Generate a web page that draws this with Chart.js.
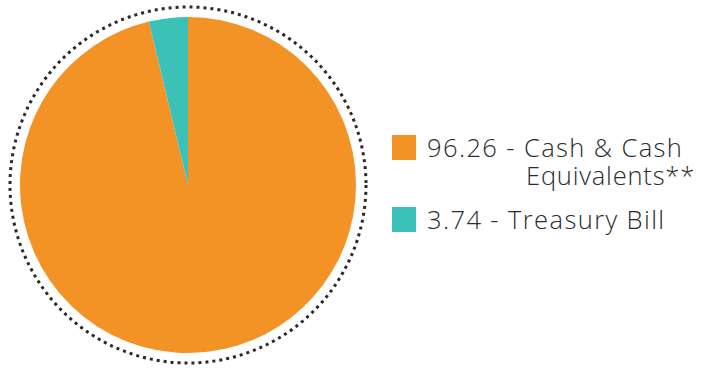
<!DOCTYPE html>
<html>
<head>
<meta charset="utf-8">
<script src="https://cdn.jsdelivr.net/npm/chart.js@4/dist/chart.umd.min.js"></script>
<style>
  html, body { margin: 0; padding: 0; background: #fff; }
  #wrap { position: relative; width: 704px; height: 380px; overflow: hidden; }
  #pie { position: absolute; left: 0; top: 0; }
  .legend { position: absolute; left: 392px; font-family: "Open Sans", sans-serif; font-weight: 300; color: #2b2b2b; font-size: 25.5px; letter-spacing: 1.4px; }
  .item { position: relative; }
  .box { position: absolute; left: 0; width: 24px; height: 25px; }
  .txt { position: absolute; left: 35px; white-space: nowrap; line-height: 28px; }
</style>
</head>
<body>
<div id="wrap">
  <canvas id="pie" width="376" height="370"></canvas>
  <div id="legend"></div>
</div>
<script>
const labels = ["Cash & Cash Equivalents**", "Treasury Bill"];
const values = [96.26, 3.74];
const colors = ["#F39325", "#3CC1B9"];
const legendLines = [["96.26 - Cash & Cash", "Equivalents**"], ["3.74 - Treasury Bill"]];

const dottedRing = {
  id: "dottedRing",
  afterDraw(chart) {
    const arc = chart.getDatasetMeta(0).data[0];
    if (!arc) return;
    const ctx = chart.ctx;
    ctx.save();
    ctx.beginPath();
    ctx.arc(arc.x, arc.y, arc.outerRadius + 10, 0, Math.PI * 2);
    ctx.setLineDash([3, 4]);
    ctx.lineWidth = 3;
    ctx.strokeStyle = "#2a2a2a";
    ctx.stroke();
    ctx.restore();
  },
};

new Chart(document.getElementById("pie").getContext("2d"), {
  type: "pie",
  data: {
    labels: labels,
    datasets: [{ data: values, backgroundColor: colors, borderWidth: 0 }],
  },
  options: {
    responsive: false,
    animation: false,
    layout: { padding: 17 },
    plugins: { legend: { display: false }, tooltip: { enabled: false } },
  },
  plugins: [dottedRing],
});

// html legend
const legend = document.getElementById("legend");
const tops = [135, 207];
legendLines.forEach((lines, i) => {
  const item = document.createElement("div");
  item.className = "legend";
  item.style.top = tops[i] + "px";
  const box = document.createElement("div");
  box.className = "box";
  box.style.background = colors[i];
  item.appendChild(box);
  lines.forEach((line, j) => {
    const t = document.createElement("div");
    t.className = "txt";
    t.textContent = line;
    t.style.top = (j * 28 - 2) + "px";
    if (j > 0) {
      t.style.left = "134px";
      t.style.letterSpacing = "0.8px";
    }
    item.appendChild(t);
  });
  legend.appendChild(item);
});
</script>
</body>
</html>
